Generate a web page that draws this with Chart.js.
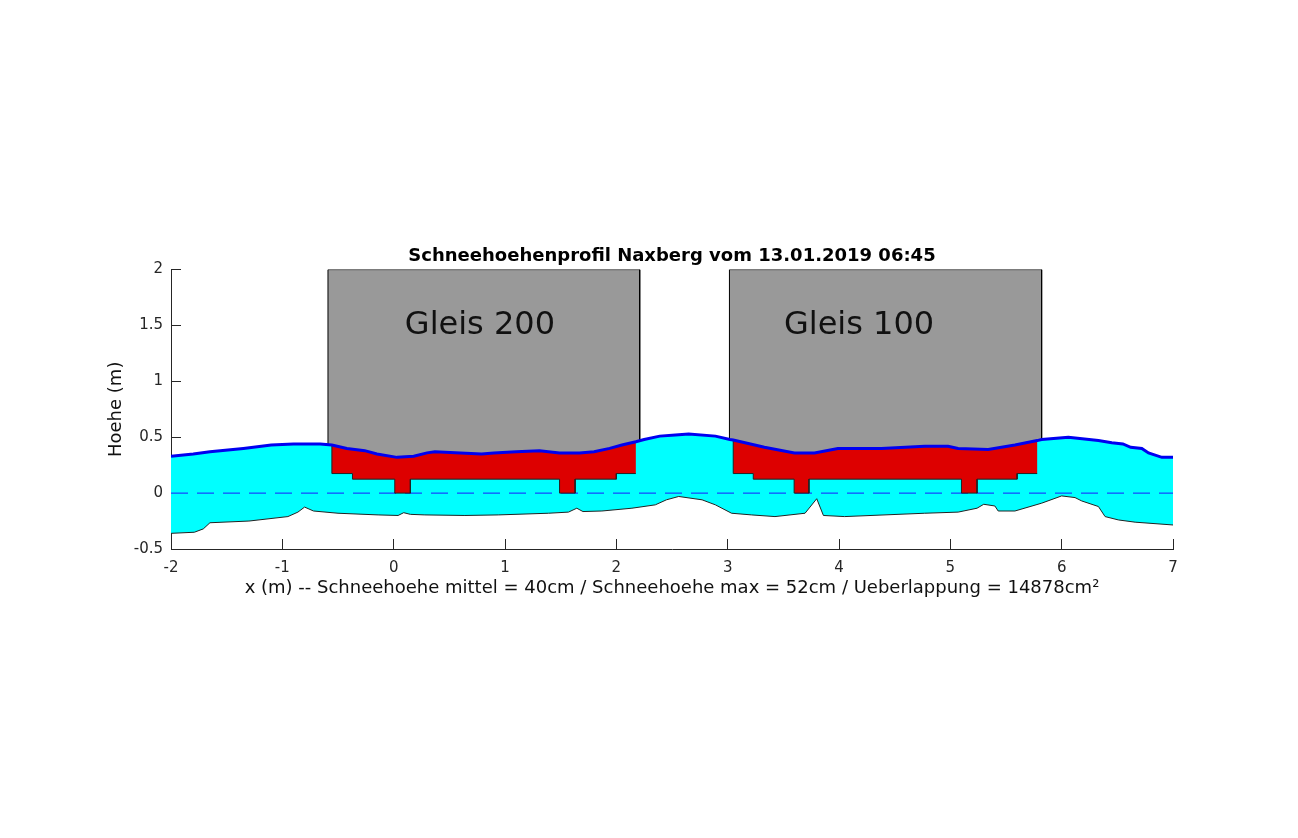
<!DOCTYPE html>
<html>
<head>
<meta charset="utf-8">
<script src="https://cdn.jsdelivr.net/npm/chart.js@4.4.1/dist/chart.umd.min.js"></script>
<style>
  body { margin: 0; background: #fff; }
  #wrap { width: 1298px; height: 838px; }
</style>
</head>
<body>
<div id="wrap"><canvas id="profil" width="1298" height="838"></canvas></div>
<script>
// Schneeoberflaeche (m)
const schneeX = [-2.0, -1.8, -1.65, -1.35, -1.1, -0.9, -0.66, -0.555, -0.42, -0.26, -0.15, 0.03, 0.18, 0.3, 0.37, 0.6, 0.79, 0.9, 1.1, 1.31, 1.49, 1.67, 1.8, 1.94, 2.05, 2.175,
                 2.25, 2.39, 2.53, 2.65, 2.89, 3.02, 3.05, 3.33, 3.6, 3.78, 3.99, 4.38, 4.77, 4.98, 5.07, 5.34, 5.58, 5.78, 5.82, 6.06, 6.33, 6.45, 6.55, 6.62, 6.72, 6.78, 6.9, 7.0];
const schneeY = [0.33, 0.35, 0.37, 0.40, 0.43, 0.44, 0.44, 0.43, 0.40, 0.38, 0.35, 0.32, 0.33, 0.36, 0.37, 0.36, 0.35, 0.36, 0.37, 0.38, 0.36, 0.36, 0.37, 0.40, 0.43, 0.46,
                 0.48, 0.51, 0.52, 0.53, 0.51, 0.48, 0.475, 0.41, 0.36, 0.36, 0.40, 0.40, 0.42, 0.42, 0.40, 0.39, 0.43, 0.47, 0.48, 0.50, 0.47, 0.45, 0.44, 0.41, 0.40, 0.36, 0.32, 0.32];

// Boden / Schotter (m)
const bodenX = [-2.0, -1.79, -1.71, -1.65, -1.3, -0.95, -0.86, -0.8, -0.72, -0.5, -0.14, 0.04, 0.09, 0.15, 0.28, 0.64, 0.94, 1.39, 1.57, 1.645, 1.7, 1.87, 2.14, 2.35, 2.45, 2.56,
                2.77, 2.89, 3.035, 3.215, 3.425, 3.695, 3.8, 3.86, 4.05, 4.53, 4.77, 5.07, 5.24, 5.3, 5.4, 5.43, 5.58, 5.82, 6.0, 6.12, 6.18, 6.33, 6.39, 6.51, 6.66, 7.0];
const bodenY = [-0.36, -0.35, -0.32, -0.265, -0.25, -0.21, -0.17, -0.125, -0.16, -0.18, -0.195, -0.2, -0.175, -0.19, -0.195, -0.2, -0.195, -0.18, -0.17, -0.135, -0.165, -0.16, -0.135, -0.105, -0.06, -0.03,
                -0.06, -0.105, -0.18, -0.195, -0.21, -0.18, -0.05, -0.2, -0.21, -0.19, -0.18, -0.17, -0.135, -0.1, -0.115, -0.16, -0.16, -0.09, -0.025, -0.04, -0.07, -0.12, -0.21, -0.24, -0.26, -0.285];

// Fahrzeugumriss (Lichtraum) je Gleis
const umriss200X = [-0.59, -0.59, 2.21, 2.21, 2.175, 2.175, 2.0, 2.0, 1.63, 1.63, 1.49, 1.49, 0.15, 0.15, 0.01, 0.01, -0.37, -0.37, -0.555, -0.555];
const umriss100X = [3.016, 3.016, 5.82, 5.82, 5.78, 5.78, 5.6, 5.6, 5.24, 5.24, 5.1, 5.1, 3.73, 3.73, 3.597, 3.597, 3.23, 3.23, 3.05, 3.05];
const umrissY    = [0.44, 2, 2, 0.44, 0.41, 0.175, 0.175, 0.125, 0.125, 0, 0, 0.125, 0.125, 0, 0, 0.125, 0.125, 0.175, 0.175, 0.41];

const nullX = [-2, 7];
const nullY = [0, 0];

const gleisNamen = ['Gleis 200', 'Gleis 100'];

const xTicks = [-2, -1, 0, 1, 2, 3, 4, 5, 6, 7];
const yTicks = [-0.5, 0, 0.5, 1, 1.5, 2];

function punkte(xs, ys) {
  return xs.map((x, i) => ({x: x, y: ys[i]}));
}

// Ueberlappung: Unterkante des Umrisses plus Schneeoberflaeche darueber
function ueberlappung(umX) {
  const unten = punkte(umX.slice(5, 19), umrissY.slice(5, 19));
  const links = umX[18], rechts = umX[5];
  const oben = punkte(schneeX, schneeY).filter(p => p.x >= links && p.x <= rechts);
  return unten.concat(oben);
}

const schneeFlaeche = punkte(schneeX, schneeY).concat(punkte(bodenX, bodenY).reverse());

const grau = '#999999';
const rot = '#dd0000';
const achse = '#262626';

const gleisText = {
  id: 'gleisText',
  afterDatasetsDraw(chart) {
    const {ctx, scales: {x, y}} = chart;
    const pos = [[0.775, 1.5], [4.18, 1.5]];
    ctx.save();
    ctx.font = '32px "DejaVu Sans"';
    ctx.fillStyle = '#111';
    ctx.textAlign = 'center';
    ctx.textBaseline = 'middle';
    gleisNamen.forEach((name, i) => {
      ctx.fillText(name, x.getPixelForValue(pos[i][0]), y.getPixelForValue(pos[i][1]));
    });
    ctx.restore();
  }
};

Chart.defaults.font.family = '"DejaVu Sans"';

new Chart(document.getElementById('profil'), {
  type: 'scatter',
  data: {
    datasets: [
      {
        label: 'Gleis 200',
        data: punkte(umriss200X, umrissY),
        showLine: true, fill: 'shape',
        backgroundColor: grau, borderColor: '#000', borderWidth: 1,
        pointRadius: 0, order: 6
      },
      {
        label: 'Gleis 100',
        data: punkte(umriss100X, umrissY),
        showLine: true, fill: 'shape',
        backgroundColor: grau, borderColor: '#000', borderWidth: 1,
        pointRadius: 0, order: 6
      },
      {
        label: 'Schnee',
        data: schneeFlaeche,
        showLine: true, fill: 'shape',
        backgroundColor: '#00ffff', borderWidth: 0,
        pointRadius: 0, order: 5
      },
      {
        label: 'Null',
        data: punkte(nullX, nullY),
        showLine: true, fill: false,
        borderColor: '#1a1aff', borderWidth: 1, borderDash: [17, 9],
        pointRadius: 0, order: 4
      },
      {
        label: 'Ueberlappung 200',
        data: ueberlappung(umriss200X),
        showLine: true, fill: 'shape',
        backgroundColor: rot, borderColor: '#222', borderWidth: 1,
        pointRadius: 0, order: 3
      },
      {
        label: 'Ueberlappung 100',
        data: ueberlappung(umriss100X),
        showLine: true, fill: 'shape',
        backgroundColor: rot, borderColor: '#222', borderWidth: 1,
        pointRadius: 0, order: 3
      },
      {
        label: 'Schneeoberflaeche',
        data: punkte(schneeX, schneeY),
        showLine: true, fill: false,
        borderColor: '#0000f0', borderWidth: 3,
        pointRadius: 0, order: 2
      },
      {
        label: 'Boden',
        data: punkte(bodenX, bodenY),
        showLine: true, fill: false,
        borderColor: '#222', borderWidth: 1,
        pointRadius: 0, order: 1
      }
    ]
  },
  options: {
    responsive: false,
    animation: false,
    devicePixelRatio: 1,
    layout: { padding: { left: 100, right: 125, top: 246, bottom: 239 } },
    plugins: {
      legend: { display: false },
      tooltip: { enabled: false },
      title: {
        display: true,
        fullSize: false,
        text: 'Schneehoehenprofil Naxberg vom 13.01.2019 06:45',
        color: '#000',
        font: { size: 18, weight: 'bold' },
        padding: { top: 0, bottom: 2 }
      }
    },
    scales: {
      x: {
        type: 'linear',
        min: -2, max: 7,
        afterBuildTicks: s => { s.ticks = xTicks.map(v => ({value: v})); },
        afterFit: s => { s.height = 50; },
        ticks: { color: achse, font: { size: 15 }, padding: 20, callback: v => String(v) },
        grid: { drawOnChartArea: false, tickLength: -10, color: achse },
        border: { color: achse },
        title: {
          display: true,
          text: 'x (m) -- Schneehoehe mittel = 40cm / Schneehoehe max = 52cm / Ueberlappung = 14878cm²',
          color: '#111',
          font: { size: 18 },
          padding: { top: 0, bottom: 0 }
        }
      },
      y: {
        type: 'linear',
        min: -0.5, max: 2,
        afterBuildTicks: s => { s.ticks = yTicks.map(v => ({value: v})); },
        afterFit: s => { s.width = 71; },
        ticks: { color: achse, font: { size: 15 }, padding: 18, callback: v => String(v) },
        grid: { drawOnChartArea: false, tickLength: -10, color: achse },
        border: { color: achse },
        title: {
          display: true,
          text: 'Hoehe (m)',
          color: '#111',
          font: { size: 18 },
          padding: { top: 6, bottom: 0 }
        }
      }
    }
  },
  plugins: [gleisText]
});
</script>
</body>
</html>
